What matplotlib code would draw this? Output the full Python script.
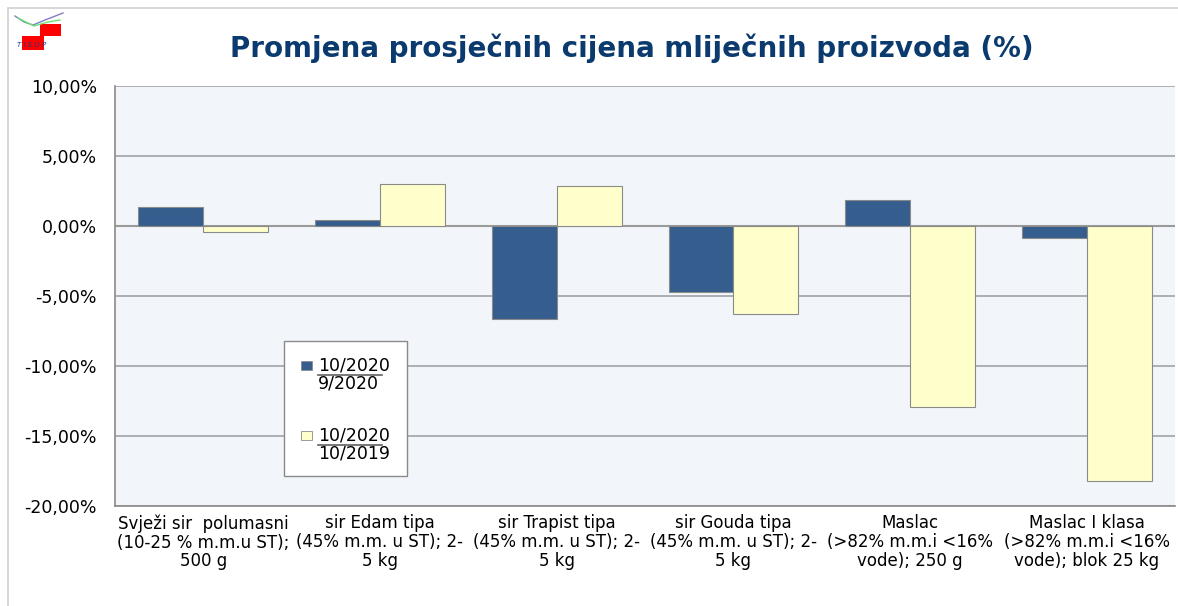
import matplotlib.pyplot as plt
import numpy as np
from matplotlib.lines import Line2D
from matplotlib.patches import Rectangle

categories = [
    "Svježi sir  polumasni\n(10-25 % m.m.u ST);\n500 g",
    "sir Edam tipa\n(45% m.m. u ST); 2-\n5 kg",
    "sir Trapist tipa\n(45% m.m. u ST); 2-\n5 kg",
    "sir Gouda tipa\n(45% m.m. u ST); 2-\n5 kg",
    "Maslac\n(>82% m.m.i <16%\nvode); 250 g",
    "Maslac I klasa\n(>82% m.m.i <16%\nvode); blok 25 kg",
]
vs_prev_month = [1.36, 0.43, -6.64, -4.71, 1.86, -0.86]
vs_prev_year = [-0.43, 3.00, 2.86, -6.29, -12.93, -18.20]
yticks = [10, 5, 0, -5, -10, -15, -20]

plt.rcParams["font.family"] = ["DejaVu Sans"]

fig = plt.figure(figsize=(11.78, 6.06), dpi=100)
fig.patch.set_facecolor("white")
fig.add_artist(Rectangle((0.007, -0.01), 0.995, 0.997, transform=fig.transFigure,
                         fill=False, edgecolor="#d0d0d0", lw=1.2))

ax = fig.add_axes([0.0976, 0.165, 0.8999, 0.693])
ax.set_facecolor("#f2f6fa")

x = np.arange(len(categories))
w = 0.367
ax.bar(x - w / 2, vs_prev_month, w, color="#355e8e", edgecolor="#8a8a8a", lw=0.8, zorder=3)
ax.bar(x + w / 2, vs_prev_year, w, color="#ffffcc", edgecolor="#8a8a8a", lw=0.8, zorder=3)

ax.set_xlim(-0.5, len(categories) - 0.5)
ax.set_ylim(-20, 10)
ax.set_yticks(yticks)
ax.set_yticklabels([f"{v:.2f}%".replace(".", ",") for v in yticks], fontsize=12.5)
ax.yaxis.grid(True, color="#a0a4a8", lw=1.2, zorder=0)
ax.axhline(0, color="#9a9a9a", lw=1.5, zorder=2)
ax.tick_params(axis="y", length=0, pad=13)
ax.set_xticks(x)
ax.set_xticklabels(categories, fontsize=12, linespacing=1.05)
ax.tick_params(axis="x", length=0, pad=6)
for s in ["top", "right"]:
    ax.spines[s].set_visible(False)
for s in ["left", "bottom"]:
    ax.spines[s].set_color("#8a8a8a")
    ax.spines[s].set_linewidth(1.2)

fig.text(0.5365, 1 - 57 / 606, "Promjena prosječnih cijena mliječnih proizvoda (%)",
         ha="center", va="baseline", fontsize=20, fontweight="bold", color="#0b3a6e")

# legend box (manual, with fraction-style labels)
lx0, ly0 = 284 / 1178, 1 - 476 / 606
lw_, lh_ = 123 / 1178, 135 / 606
fig.add_artist(Rectangle((lx0, ly0), lw_, lh_, transform=fig.transFigure,
                         facecolor="white", edgecolor="#8a8a8a", lw=1, zorder=5))
for (ypx, col), (num, den) in zip([(366, "#355e8e"), (436, "#ffffcc")],
                                  [("10/2020", "9/2020"), ("10/2020", "10/2019")]):
    yf = 1 - ypx / 606
    fig.add_artist(Rectangle((301 / 1178, yf - 4 / 606), 11 / 1178, 9 / 606,
                             transform=fig.transFigure, facecolor=col,
                             edgecolor="#8a8a8a", lw=0.6, zorder=6))
    fig.text(318 / 1178, yf + 1 / 606, num, fontsize=12.5, va="center", zorder=6)
    fig.text(318 / 1178, 1 - (ypx + 18) / 606, den, fontsize=12.5, va="center", zorder=6)
    fig.add_artist(Line2D([318 / 1178, 382 / 1178], [1 - (ypx + 9) / 606] * 2,
                          transform=fig.transFigure, color="#606060", lw=1.2, zorder=6))

# small logo
fig.add_artist(Line2D(np.array([15, 24, 33, 45, 63]) / 1178, 1 - np.array([16, 22, 25, 20, 13]) / 606,
                      transform=fig.transFigure, color="#8080c0", lw=1))
fig.add_artist(Line2D(np.array([18, 26, 34, 48, 60]) / 1178, 1 - np.array([18, 22, 26, 22, 20]) / 606,
                      transform=fig.transFigure, color="#70e070", lw=1))
fig.add_artist(Rectangle((40 / 1178, 1 - 36 / 606), 21 / 1178, 12 / 606,
                         transform=fig.transFigure, facecolor="#ff0000", edgecolor="none"))
fig.add_artist(Rectangle((22 / 1178, 1 - 50 / 606), 22 / 1178, 14 / 606,
                         transform=fig.transFigure, facecolor="#ff0000", edgecolor="none"))
fig.text(17 / 1178, 1 - 45 / 606, "T I S U P", fontsize=5, color="#1a3a8a",
         style="italic", va="center")

fig.savefig("out.png", dpi=100, facecolor="white")
